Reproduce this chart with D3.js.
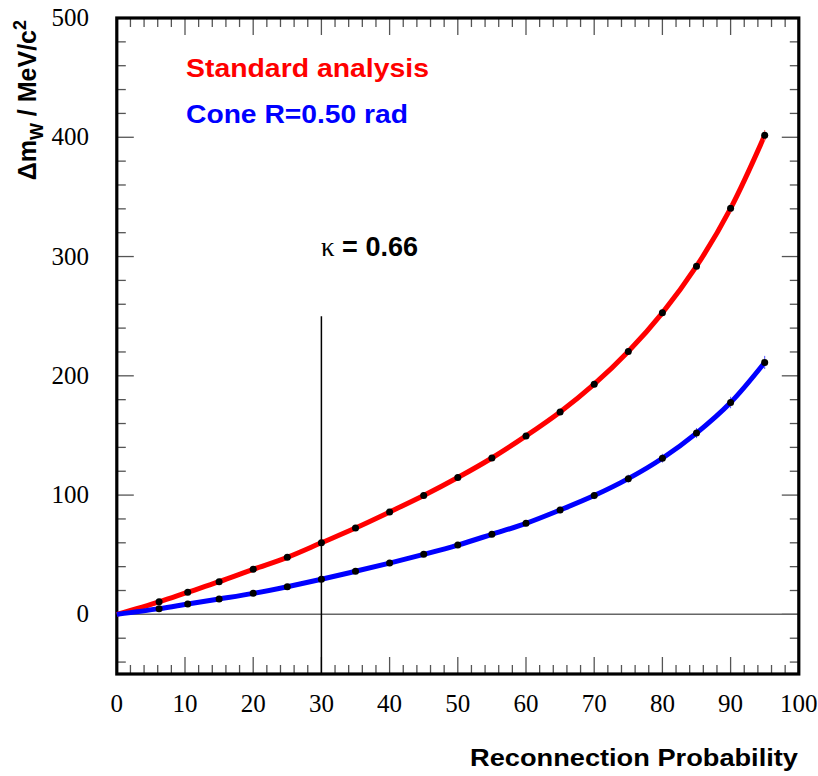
<!DOCTYPE html>
<html><head><meta charset="utf-8">
<script src="https://cdn.jsdelivr.net/npm/d3@7"></script>
<style>body{margin:0;background:#fff}svg{display:block}</style>
</head><body>
<script>
const probs = [6.2, 10.4, 15, 20, 25, 30, 35, 40, 45, 50, 55, 60, 65, 70, 75, 80, 85, 90, 95];
const standardVals = [10.5, 18.6, 27.4, 37.8, 47.8, 60.0, 72.4, 85.8, 99.6, 114.7, 131.1, 149.6, 169.7, 193.0, 220.4, 252.8, 291.9, 340.4, 401.6];
const standardErr = [0.5, 0.6, 0.7, 0.8, 0.9, 1.0, 1.1, 1.2, 1.3, 1.4, 1.5, 1.7, 1.9, 2.1, 2.3, 2.6, 3.0, 3.5, 4.5];
const coneVals = [4.8, 8.7, 12.9, 17.6, 23.2, 29.4, 36.1, 43.0, 50.3, 58.1, 67.1, 76.3, 87.5, 99.6, 113.8, 130.9, 152.0, 177.6, 211.2];
const coneErr = [0.8, 0.9, 1.0, 1.1, 1.2, 1.3, 1.5, 1.6, 1.8, 2.0, 2.2, 2.4, 2.7, 3.0, 3.3, 3.7, 4.2, 4.8, 5.5];
const xTicks = [0, 10, 20, 30, 40, 50, 60, 70, 80, 90, 100];
const yTicks = [0, 100, 200, 300, 400, 500];
const kappaProb = 30;
const kappaTop = 250;

const W = 818, H = 776;
const svg = d3.select("body").append("svg").attr("width", W).attr("height", H);
const x = d3.scaleLinear().domain([0, 100]).range([116.8, 798.8]);
const y = d3.scaleLinear().domain([-50, 500]).range([674, 18]);
const tickColor = "#555";

// ticks (bottom, top, left, right)
const xMinor = d3.range(0, 100.01, 2);
const yMinor = d3.range(-40, 500.01, 20);
const g = svg.append("g");
xMinor.forEach(v => {
  const major = Math.abs(v % 10) < 1e-6;
  const L = major ? 17 : 9;
  g.append("line").attr("x1", x(v)).attr("x2", x(v)).attr("y1", y(-50)).attr("y2", y(-50) - L).attr("stroke", tickColor).attr("stroke-width", 1.3);
  g.append("line").attr("x1", x(v)).attr("x2", x(v)).attr("y1", y(500)).attr("y2", y(500) + L).attr("stroke", tickColor).attr("stroke-width", 1.3);
});
yMinor.forEach(v => {
  const major = Math.abs(v % 100) < 1e-6;
  const L = major ? 17 : 9;
  g.append("line").attr("y1", y(v)).attr("y2", y(v)).attr("x1", x(0)).attr("x2", x(0) + L).attr("stroke", tickColor).attr("stroke-width", 1.3);
  g.append("line").attr("y1", y(v)).attr("y2", y(v)).attr("x1", x(100)).attr("x2", x(100) - L).attr("stroke", tickColor).attr("stroke-width", 1.3);
});

// zero line
svg.append("line").attr("x1", x(0)).attr("x2", x(100)).attr("y1", y(0)).attr("y2", y(0)).attr("stroke", "#666").attr("stroke-width", 1.5);
// kappa line
svg.append("line").attr("x1", x(kappaProb)).attr("x2", x(kappaProb)).attr("y1", y(kappaTop)).attr("y2", y(-50)).attr("stroke", "#000").attr("stroke-width", 1.5);

// frame
svg.append("rect").attr("x", x(0)).attr("y", y(500)).attr("width", x(100) - x(0)).attr("height", y(-50) - y(500))
  .attr("fill", "none").attr("stroke", "#000").attr("stroke-width", 3.2);

// tick labels
const serif = "'Liberation Serif', 'Times New Roman', serif";
const sans = "'Liberation Sans', Arial, Helvetica, sans-serif";
svg.selectAll(".xt").data(xTicks).enter().append("text")
  .attr("x", d => x(d)).attr("y", 712).attr("text-anchor", "middle")
  .attr("font-family", serif).attr("font-size", 25).text(d => d);
svg.selectAll(".yt").data(yTicks).enter().append("text")
  .attr("x", 89).attr("y", d => y(d) + 8).attr("text-anchor", "end")
  .attr("font-family", serif).attr("font-size", 25).text(d => d);

// curves
const series = [
  {vals: standardVals, err: standardErr, color: "#ff0000", err_c: "#ff6666"},
  {vals: coneVals, err: coneErr, color: "#0000ff", err_c: "#5555ff"}
];
const line = d3.line().x(d => x(d[0])).y(d => y(d[1])).curve(d3.curveCatmullRom.alpha(0.5));
series.forEach(s => {
  const pts = [[0, 0]].concat(probs.map((p, i) => [p, s.vals[i]]));
  svg.append("path").attr("d", line(pts)).attr("fill", "none").attr("stroke", s.color).attr("stroke-width", 5);
  probs.forEach((p, i) => {
    svg.append("line").attr("x1", x(p)).attr("x2", x(p)).attr("y1", y(s.vals[i] - s.err[i])).attr("y2", y(s.vals[i] + s.err[i]))
      .attr("stroke", s.err_c).attr("stroke-width", 1);
  });
});
series.forEach(s => {
  svg.selectAll(null).data(probs).enter().append("circle")
    .attr("cx", d => x(d)).attr("cy", (d, i) => y(s.vals[i])).attr("r", 3.5).attr("fill", "#000");
});

// legend texts
svg.append("text").attr("x", 186).attr("y", 77).attr("font-family", sans).attr("font-weight", "bold")
  .attr("font-size", 26).attr("fill", "#ff0000").attr("textLength", 243).attr("lengthAdjust", "spacingAndGlyphs").text("Standard analysis");
svg.append("text").attr("x", 186).attr("y", 123).attr("font-family", sans).attr("font-weight", "bold")
  .attr("font-size", 26).attr("fill", "#0000ff").attr("textLength", 222).attr("lengthAdjust", "spacingAndGlyphs").text("Cone R=0.50 rad");

// kappa label
const kt = svg.append("text").attr("x", 321).attr("y", 256).attr("font-size", 27);
kt.append("tspan").attr("font-family", serif).text("κ");
kt.append("tspan").attr("font-family", sans).attr("font-weight", "bold").text(" = 0.66");

// axis titles
svg.append("text").attr("x", 798).attr("y", 766).attr("text-anchor", "end").attr("font-family", sans)
  .attr("font-weight", "bold").attr("font-size", 23).attr("textLength", 328).attr("lengthAdjust", "spacingAndGlyphs").text("Reconnection Probability");

const yt = svg.append("text").attr("transform", "translate(36,20) rotate(-90)").attr("text-anchor", "end")
  .attr("font-family", sans).attr("font-weight", "bold").attr("font-size", 25);
yt.append("tspan").text("Δm");
yt.append("tspan").attr("font-size", 18).attr("dy", 7).text("W");
yt.append("tspan").attr("dy", -7).text(" / MeV/c");
yt.append("tspan").attr("font-size", 18).attr("dy", -10).text("2");
</script>
</body></html>
